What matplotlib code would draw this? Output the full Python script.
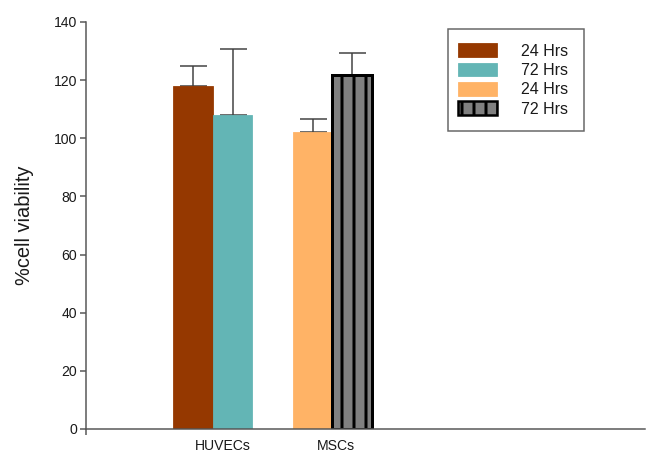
import matplotlib
matplotlib.use("Agg")
import matplotlib.pyplot as plt
from matplotlib.patches import Patch, Rectangle
from matplotlib.legend_handler import HandlerPatch

plt.rcParams['font.family'] = ['Liberation Sans', 'DejaVu Sans']
plt.rcParams['hatch.linewidth'] = 3.0
plt.rcParams['hatch.color'] = 'black'

groups = ['HUVECs', 'MSCs']
series_labels = ['24 Hrs', '72 Hrs', '24 Hrs', '72 Hrs']
values = [118, 108, 102, 121.8]
errors = [6.9, 22.6, 4.8, 7.4]
colors = ['#953800', '#63B5B5', '#FFB366', '#808080']
yticks = [0, 20, 40, 60, 80, 100, 120, 140]

bar_pos = [2.68, 3.67, 5.69, 6.66]
label_pos = [3.43, 6.26]

fig = plt.figure(figsize=(647/72, 451/72), dpi=72)
ax = fig.add_axes([86/647, 1 - 429/451, 559/647, 407/451])

handles = []
for i in range(4):
    if i == 3:
        ax.bar(bar_pos[i], values[i], width=0.99, color=colors[i],
               edgecolor='black', linewidth=3, hatch='|', zorder=2)
        h = Patch(facecolor=colors[i], edgecolor='black', linewidth=2.5, hatch='|')
    else:
        ax.bar(bar_pos[i], values[i], width=0.99, color=colors[i],
               edgecolor=colors[i], linewidth=0.8, zorder=2)
        h = Patch(facecolor=colors[i], edgecolor=colors[i], linewidth=0.8)
    ax.errorbar(bar_pos[i], values[i], yerr=[[0], [errors[i]]], fmt='none',
                ecolor='#404040', elinewidth=1.5, capsize=13.5, capthick=1.5, zorder=1)
    handles.append(h)

ax.set_xlim(0, 14)
ax.set_ylim(0, 140)
ax.set_yticks(yticks)
ax.set_yticklabels([str(t) for t in yticks], fontsize=14, color='#1a1a1a')
ax.set_xticks(label_pos)
ax.set_xticklabels(groups, fontsize=14, color='#1a1a1a')
ax.tick_params(axis='x', length=0, pad=9.5)
ax.set_xticks([0], minor=True)
ax.tick_params(axis='x', which='minor', length=6, width=1.5, color='#555555', direction='out')
ax.tick_params(axis='y', length=6, width=1.5, color='#555555', pad=3)
for s in ['top', 'right']:
    ax.spines[s].set_visible(False)
for s in ['left', 'bottom']:
    ax.spines[s].set_color('#555555')
    ax.spines[s].set_linewidth(1.5)

ax.set_ylabel('%cell viability', fontsize=20, color='#1a1a1a', labelpad=20)


def shifted_rect(legend, orig_handle, xdescent, ydescent, width, height, fontsize):
    return Rectangle((-xdescent - 4, -ydescent), width, height)


x0 = (448 - 86) / 559
w = (584 - 448) / 559
y1 = (429 - 29) / 407
h_ = (130 - 29) / 407
leg = ax.legend(handles, series_labels, loc='upper left',
                bbox_to_anchor=(x0, y1 - h_, w, h_), mode='expand',
                fontsize=16, frameon=True, fancybox=False,
                handlelength=2.44, handleheight=0.94, handletextpad=1.25,
                labelspacing=0.25, borderpad=0.9, borderaxespad=0,
                handler_map={Patch: HandlerPatch(patch_func=shifted_rect)})
leg.get_frame().set_edgecolor('#404040')
leg.get_frame().set_linewidth(1.5)
for t in leg.get_texts():
    t.set_color('#1a1a1a')

fig.savefig('out.png', dpi=72)
